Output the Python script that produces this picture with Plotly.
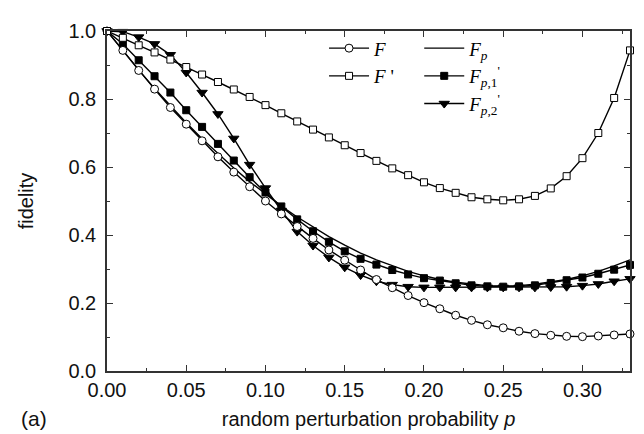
import plotly.graph_objects as go

p = [round(0.01 * i, 2) for i in range(34)]

F = [1.0, 0.943, 0.884, 0.829, 0.775, 0.726, 0.677, 0.630, 0.585, 0.542,
     0.500, 0.462, 0.425, 0.390, 0.356, 0.326, 0.297, 0.269, 0.245, 0.222,
     0.201, 0.183, 0.164, 0.149, 0.136, 0.127, 0.117, 0.110, 0.105, 0.102,
     0.101, 0.103, 0.106, 0.109]

F_prime = [1.0, 0.980, 0.958, 0.937, 0.916, 0.894, 0.872, 0.850, 0.828, 0.806,
           0.782, 0.758, 0.734, 0.710, 0.687, 0.664, 0.641, 0.618, 0.596, 0.576,
           0.555, 0.538, 0.524, 0.511, 0.505, 0.502, 0.505, 0.515, 0.537, 0.573,
           0.626, 0.700, 0.803, 0.943]

F_p = [1.0, 0.941, 0.885, 0.831, 0.779, 0.730, 0.683, 0.639, 0.597, 0.557,
       0.520, 0.485, 0.453, 0.423, 0.395, 0.370, 0.347, 0.327, 0.309, 0.293,
       0.280, 0.269, 0.261, 0.255, 0.251, 0.250, 0.251, 0.255, 0.261, 0.269,
       0.280, 0.293, 0.309, 0.327]

F_p1 = [1.0, 0.962, 0.914, 0.867, 0.819, 0.767, 0.718, 0.668, 0.619, 0.570,
        0.525, 0.484, 0.446, 0.411, 0.380, 0.352, 0.330, 0.313, 0.297, 0.284,
        0.273, 0.266, 0.258, 0.252, 0.249, 0.248, 0.249, 0.252, 0.259, 0.267,
        0.275, 0.286, 0.298, 0.312]

F_p2 = [1.0, 0.998, 0.982, 0.962, 0.930, 0.878, 0.819, 0.756, 0.684, 0.607,
        0.538, 0.472, 0.410, 0.369, 0.334, 0.305, 0.282, 0.264, 0.254, 0.248,
        0.246, 0.246, 0.246, 0.246, 0.246, 0.246, 0.246, 0.246, 0.247, 0.248,
        0.251, 0.256, 0.264, 0.271]

x_ticks = [0.0, 0.05, 0.10, 0.15, 0.20, 0.25, 0.30]
y_ticks = [0.0, 0.2, 0.4, 0.6, 0.8, 1.0]

LINE = dict(color="black", width=1.4)
SANS = "Liberation Sans, Arial, sans-serif"

fig = go.Figure()
fig.add_trace(go.Scatter(x=p, y=F_p, mode="lines", line=LINE,
                         name="<i>F</i><sub><i>p</i></sub>", legend="legend2"))
fig.add_trace(go.Scatter(x=p, y=F_p1, mode="lines+markers", line=LINE,
                         marker=dict(symbol="square", size=7, color="black",
                                     line=dict(color="black", width=1)),
                         name="<i>F</i><sub><i>p</i>,1</sub><sup>'</sup>", legend="legend2",
                         cliponaxis=False))
fig.add_trace(go.Scatter(x=p, y=F_p2, mode="lines+markers", line=LINE,
                         marker=dict(symbol="triangle-down", size=9, color="black",
                                     line=dict(color="black", width=1)),
                         name="<i>F</i><sub><i>p</i>,2</sub><sup>'</sup>", legend="legend2",
                         cliponaxis=False))
fig.add_trace(go.Scatter(x=p, y=F, mode="lines+markers", line=LINE,
                         marker=dict(symbol="circle", size=8, color="white",
                                     line=dict(color="black", width=1)),
                         name="<i>F</i>", legend="legend", cliponaxis=False))
fig.add_trace(go.Scatter(x=p, y=F_prime, mode="lines+markers", line=LINE,
                         marker=dict(symbol="square", size=7, color="white",
                                     line=dict(color="black", width=1)),
                         name="<i>F</i> '", legend="legend", cliponaxis=False))

axis_common = dict(
    showline=True, linecolor="#333333", linewidth=1.5, mirror="ticks",
    ticks="inside", ticklen=6, tickwidth=1.2, tickcolor="#333333",
    showgrid=False, zeroline=False,
    tickfont=dict(family=SANS, size=20, color="#111111"),
)

fig.update_xaxes(
    range=[0, 0.33], tickvals=x_ticks, tickformat=".2f",
    minor=dict(dtick=0.025, tick0=0, ticks="inside", ticklen=3, tickwidth=1, tickcolor="#333333"),
    title=dict(text="random perturbation probability <i>p</i>", standoff=12,
               font=dict(family=SANS, size=20, color="#111111")),
    **axis_common)
fig.update_yaxes(
    range=[0, 1.0], tickvals=y_ticks, tickformat=".1f", ticklabelstandoff=5,
    minor=dict(dtick=0.1, tick0=0, ticks="inside", ticklen=3, tickwidth=1, tickcolor="#333333"),
    title=dict(text="fidelity", standoff=29,
               font=dict(family=SANS, size=20, color="#111111")),
    **axis_common)

legend_font = dict(family="Liberation Serif, Times New Roman, serif", size=19, color="black")
fig.update_layout(
    width=644, height=434,
    margin=dict(l=99, r=22, t=13, b=71),
    paper_bgcolor="white", plot_bgcolor="white",
    showlegend=True,
    legend=dict(x=0.415, y=1.005, xanchor="left", yanchor="top", font=legend_font,
                bgcolor="rgba(0,0,0,0)", tracegroupgap=0, itemwidth=40),
    legend2=dict(x=0.597, y=1.005, xanchor="left", yanchor="top", font=legend_font,
                 bgcolor="rgba(0,0,0,0)", tracegroupgap=0, itemwidth=40),
    annotations=[dict(text="(a)", x=-0.14, y=-0.14, xref="paper", yref="paper",
                      showarrow=False, xanchor="center", yanchor="middle",
                      font=dict(family=SANS, size=21, color="#111111"))],
)

fig.write_html("out.html")
